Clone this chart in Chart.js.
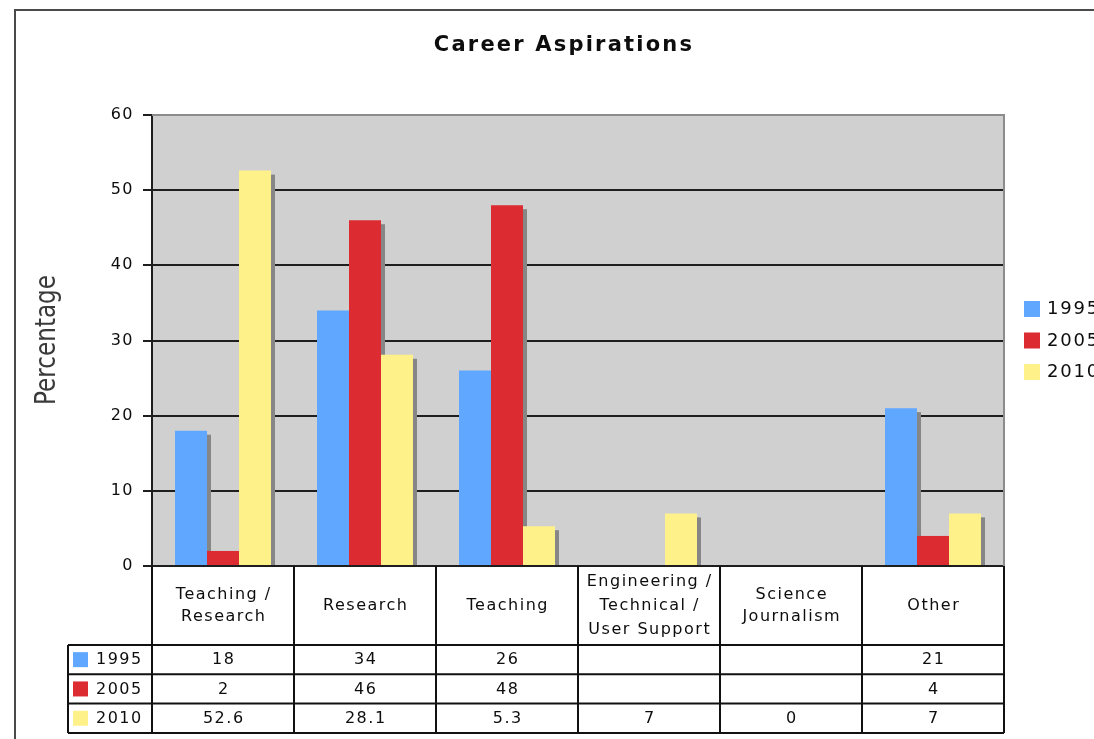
<!DOCTYPE html>
<html>
<head>
<meta charset="utf-8">
<script src="https://cdn.jsdelivr.net/npm/chart.js@4/dist/chart.umd.min.js"></script>
<style>
  html, body { margin: 0; padding: 0; background: #fff; overflow: hidden; }
  #wrap { position: relative; width: 1094px; height: 739px; }
</style>
</head>
<body>
<div id="wrap"><canvas id="c"></canvas></div>
<script>
// ---- data ----
const chartTitle = "Career Aspirations";
const yAxisLabel = "Percentage";
const categories = [
  ["Teaching /", "Research"],
  ["Research"],
  ["Teaching"],
  ["Engineering /", "Technical /", "User Support"],
  ["Science", "Journalism"],
  ["Other"]
];
const seriesNames = ["1995", "2005", "2010"];
const values1995 = [18, 34, 26, null, null, 21];
const values2005 = [2, 46, 48, null, null, 4];
const values2010 = [52.6, 28.1, 5.3, 7, 0, 7];
const seriesColors = ["#60a8ff", "#dc2b31", "#fff18a"];
const yTicks = [0, 10, 20, 30, 40, 50, 60];

const seriesValues = [values1995, values2005, values2010];
const FONT = "'DejaVu Sans', Verdana, sans-serif";
const TEXT = '#0d0d0d';

const customPlugin = {
  id: 'custom',
  beforeUpdate(chart) { chart.ctx.letterSpacing = '1.5px'; },
  beforeDraw(chart) {
    const ctx = chart.ctx;
    const a = chart.chartArea;
    ctx.save();
    ctx.fillStyle = '#ffffff';
    ctx.fillRect(0, 0, chart.width, chart.height);
    // outer frame
    ctx.strokeStyle = '#4a4a4a';
    ctx.lineWidth = 2;
    ctx.beginPath();
    ctx.moveTo(15, chart.height + 2);
    ctx.lineTo(15, 10);
    ctx.lineTo(chart.width + 2, 10);
    ctx.stroke();
    // plot background
    ctx.fillStyle = '#d0d0d0';
    ctx.fillRect(a.left, a.top, a.right - a.left, a.bottom - a.top);
    ctx.restore();
    ctx.letterSpacing = '1.5px';
  },
  beforeDatasetsDraw(chart) {
    const ctx = chart.ctx;
    ctx.save();
    ctx.fillStyle = '#868686';
    chart.data.datasets.forEach((ds, di) => {
      const meta = chart.getDatasetMeta(di);
      meta.data.forEach((bar, i) => {
        const v = ds.data[i];
        if (v === null || v === 0) return;
        const h = bar.base - bar.y - 4;
        if (h <= 0) return;
        ctx.fillRect(bar.x + bar.width / 2, bar.y + 4, 4, h);
      });
    });
    ctx.restore();
  },
  afterDraw(chart) {
    const ctx = chart.ctx;
    const a = chart.chartArea;
    const xs = chart.scales.x;
    ctx.save();
    ctx.letterSpacing = '1.5px';

    // plot border (top / right)
    ctx.strokeStyle = '#8c8c8c';
    ctx.lineWidth = 2;
    ctx.beginPath();
    ctx.moveTo(a.left, a.top);
    ctx.lineTo(a.right, a.top);
    ctx.lineTo(a.right, a.bottom);
    ctx.stroke();

    // title
    ctx.letterSpacing = '2.2px';
    ctx.fillStyle = TEXT;
    ctx.font = "bold 21px " + FONT;
    ctx.textAlign = 'center';
    ctx.textBaseline = 'middle';
    ctx.fillText(chartTitle, 564, 46);

    // data table
    ctx.letterSpacing = '1.5px';
    const n = categories.length;
    const colW = (xs.right - xs.left) / n;
    const top = a.bottom;
    const headerH = 79;
    const rowH = 29.3;
    const tableLeft = 68;
    const tableBottom = top + headerH + rowH * seriesNames.length;
    ctx.strokeStyle = '#111';
    ctx.lineWidth = 2;
    ctx.beginPath();
    for (let i = 0; i <= n; i++) {
      const x = xs.left + colW * i;
      ctx.moveTo(x, top);
      ctx.lineTo(x, tableBottom);
    }
    for (let r = 0; r <= seriesNames.length; r++) {
      const y = top + headerH + rowH * r;
      ctx.moveTo(tableLeft, y);
      ctx.lineTo(xs.right, y);
    }
    ctx.moveTo(tableLeft, top + headerH);
    ctx.lineTo(tableLeft, tableBottom);
    ctx.stroke();

    ctx.font = "16px " + FONT;
    ctx.fillStyle = TEXT;
    ctx.textAlign = 'center';
    ctx.textBaseline = 'middle';
    // header
    categories.forEach((lines, i) => {
      const cx = xs.left + colW * (i + 0.5);
      const lh = lines.length > 2 ? 24 : 22;
      const cy = top + headerH / 2;
      lines.forEach((t, j) => {
        ctx.fillText(t, cx + 0.75, cy + (j - (lines.length - 1) / 2) * lh);
      });
    });
    // rows
    seriesNames.forEach((name, r) => {
      const cy = top + headerH + rowH * (r + 0.5);
      ctx.fillStyle = seriesColors[r];
      ctx.fillRect(73, cy - 7.5, 15, 15);
      ctx.fillStyle = TEXT;
      ctx.textAlign = 'left';
      ctx.fillText(name, 96, cy + 0.5);
      ctx.textAlign = 'center';
      seriesValues[r].forEach((v, i) => {
        if (v === null) return;
        const cx = xs.left + colW * (i + 0.5);
        ctx.fillText(String(v), cx + 0.75, cy + 0.5);
      });
    });

    // legend
    ctx.font = "18px " + FONT;
    ctx.letterSpacing = '1.8px';
    seriesNames.forEach((name, r) => {
      const cy = 309 + r * 31.5;
      ctx.fillStyle = seriesColors[r];
      ctx.fillRect(1024, cy - 8, 16, 16);
      ctx.fillStyle = TEXT;
      ctx.textAlign = 'left';
      ctx.fillText(name, 1047, cy + 0.5);
    });

    // y axis title (compressed, as in the reference)
    ctx.letterSpacing = '0px';
    ctx.translate(48, 340);
    ctx.rotate(-Math.PI / 2);
    ctx.font = "28px " + FONT;
    const w = ctx.measureText(yAxisLabel).width;
    ctx.scale(130 / w, 1);
    ctx.fillStyle = '#3a3a3a';
    ctx.textAlign = 'center';
    ctx.textBaseline = 'middle';
    ctx.fillText(yAxisLabel, 0, 0);
    ctx.restore();
  }
};

new Chart(document.getElementById('c'), {
  type: 'bar',
  data: {
    labels: categories,
    datasets: seriesNames.map((name, i) => ({
      label: name,
      data: seriesValues[i],
      backgroundColor: seriesColors[i],
      borderWidth: 0,
      categoryPercentage: 0.676,
      barPercentage: 1.0
    }))
  },
  options: {
    responsive: true,
    maintainAspectRatio: false,
    animation: false,
    layout: { padding: { top: 115, right: 90, bottom: 0, left: 0 } },
    plugins: {
      legend: { display: false },
      title: { display: false },
      tooltip: { enabled: false }
    },
    scales: {
      x: {
        grid: { display: false },
        border: { display: false },
        ticks: { display: false },
        afterFit(scale) { scale.height = 173; }
      },
      y: {
        min: 0,
        max: 60,
        afterBuildTicks(scale) { scale.ticks = yTicks.map(v => ({ value: v })); },
        ticks: {
          padding: 9,
          color: TEXT,
          font: { family: FONT, size: 16 }
        },
        grid: {
          color: (c) => (c.tick && c.tick.value === 60) ? 'rgba(0,0,0,0)' : '#1e1e1e',
          lineWidth: 2,
          drawTicks: true,
          tickLength: 9,
          tickColor: '#1e1e1e',
          tickWidth: 2
        },
        border: { display: true, color: '#1e1e1e', width: 2 },
        afterFit(scale) { scale.width = 152; }
      }
    }
  },
  plugins: [customPlugin]
});
</script>
</body>
</html>
